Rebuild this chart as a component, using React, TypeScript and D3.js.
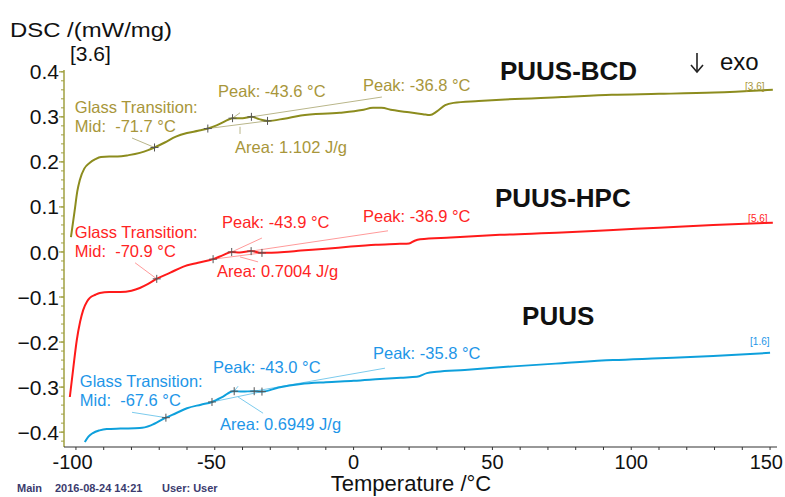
import React from "react";
import * as d3 from "d3";

const W = 785;
const H = 497;

const xTicks = [-100, -50, 0, 50, 100, 150];
const yTicks = [0.4, 0.3, 0.2, 0.1, 0.0, -0.1, -0.2, -0.3, -0.4];

// temperature (°C), DSC (mW/mg)
const bcdCurve: [number, number][] = [
  [-101.8, 0.033], [-100.5, 0.09], [-99.5, 0.135], [-98.6, 0.16], [-97, 0.185],
  [-95, 0.198], [-93, 0.206], [-91, 0.211], [-88, 0.212], [-85, 0.212],
  [-81, 0.215], [-77, 0.22], [-74, 0.226], [-71.7, 0.232], [-68, 0.243],
  [-64, 0.256], [-60, 0.264], [-56, 0.269], [-52.5, 0.274], [-48, 0.285],
  [-45, 0.294], [-43.6, 0.297], [-40, 0.297], [-36.8, 0.3], [-34, 0.295],
  [-31, 0.291], [-25, 0.296], [-19, 0.303], [-5, 0.309], [3, 0.315],
  [7, 0.32], [10, 0.32], [14, 0.315], [20, 0.31], [25, 0.306],
  [27.5, 0.304], [30, 0.312], [33, 0.326], [36, 0.331], [45, 0.335],
  [53, 0.338], [75, 0.344], [93, 0.349], [110, 0.351], [130, 0.354], [151, 0.36],
];

const hpcCurve: [number, number][] = [
  [-102.2, -0.322], [-101, -0.26], [-99.7, -0.196], [-98.5, -0.155], [-97.4, -0.129],
  [-96, -0.11], [-95, -0.102], [-93, -0.095], [-91.4, -0.091], [-88, -0.089],
  [-84, -0.089], [-80, -0.086], [-77, -0.08], [-74, -0.071], [-71, -0.06],
  [-66, -0.046], [-61.5, -0.033], [-56, -0.024], [-50.6, -0.016], [-47, -0.007],
  [-44, 0.0], [-41, -0.001], [-37, 0.002], [-33, -0.002], [-25, 0.0],
  [-19, 0.003], [-10, 0.007], [-1, 0.012], [8, 0.016], [16.7, 0.018],
  [20, 0.019], [22, 0.025], [24, 0.028], [35, 0.032], [52.7, 0.038],
  [75, 0.043], [93.5, 0.049], [110, 0.054], [129.5, 0.06], [151, 0.065],
];

const puusCurve: [number, number][] = [
  [-96.8, -0.422], [-95.5, -0.41], [-93.9, -0.402], [-91.5, -0.396], [-88.9, -0.393],
  [-84, -0.392], [-77, -0.391], [-73, -0.385], [-68, -0.369], [-64, -0.358],
  [-60, -0.347], [-55, -0.339], [-51, -0.333], [-47, -0.321], [-43.4, -0.309],
  [-40, -0.31], [-36.2, -0.309], [-33, -0.31], [-27, -0.301], [-19, -0.293],
  [-10, -0.289], [0, -0.286], [9.5, -0.282], [17, -0.279], [22.8, -0.277],
  [26.4, -0.269], [30, -0.266], [40, -0.262], [57.5, -0.254], [75, -0.247],
  [93.5, -0.24], [110, -0.236], [129.5, -0.231], [150, -0.224],
];

// crosshair temperatures: glass mid, onset, peak 1, peak 2, end
const bcdMarks = [-71.7, -52.5, -43.6, -36.8, -31];
const hpcMarks = [-70.9, -50.6, -43.9, -36.9, -33];
const puusMarks = [-67.6, -51, -43.0, -35.8, -33];

const bcdTexts = ["Glass Transition:", "Mid:  -71.7 °C", "Peak: -43.6 °C", "Peak: -36.8 °C", "Area: 1.102 J/g"];
const hpcTexts = ["Glass Transition:", "Mid:  -70.9 °C", "Peak: -43.9 °C", "Peak: -36.9 °C", "Area: 0.7004 J/g"];
const puusTexts = ["Glass Transition:", "Mid:  -67.6 °C", "Peak: -43.0 °C", "Peak: -35.8 °C", "Area: 0.6949 J/g"];

// anchors in data units: glass text, peak1 text, peak2 text, area text
const bcdTextAt: [number, number][] = [[-100.4, 0.309], [-48.8, 0.344], [3.4, 0.358], [-42.7, 0.22]];
const hpcTextAt: [number, number][] = [[-100.4, 0.031], [-47.4, 0.053], [3.4, 0.067], [-49.2, -0.056]];
const puusTextAt: [number, number][] = [[-98.6, -0.3], [-50.6, -0.269], [7.0, -0.238], [-48.1, -0.396]];

// leader starts: glass, peak1, peak2; then area leader [from, to]
const bcdLeaders: [number, number][] = [[-79.8, 0.253], [-40.9, 0.309], [10.2, 0.344], [-40.9, 0.278], [-40.9, 0.262]];
const hpcLeaders: [number, number][] = [[-78.7, -0.024], [-33.0, 0.031], [12.4, 0.047], [-34.4, -0.022], [-40.9, -0.011]];
const puusLeaders: [number, number][] = [[-79.8, -0.356], [-41.6, -0.298], [11.3, -0.258], [-32.6, -0.358], [-41.6, -0.322]];

const names = ["PUUS-BCD", "PUUS-HPC", "PUUS"];
const nameAt: [number, number][] = [[52.7, 0.382], [50.9, 0.1], [60.7, -0.162]];
const endLabels = ["[3.6]", "[5.6]", "[1.6]"];
const endAt: [number, number][] = [[141, 0.36], [142.1, 0.067], [142.8, -0.207]];

const series = [
  { curve: bcdCurve, marks: bcdMarks, texts: bcdTexts, textAt: bcdTextAt, leaders: bcdLeaders,
    color: "#8c8c1e", text: "#a8963a", leader: "#b9b68a" },
  { curve: hpcCurve, marks: hpcMarks, texts: hpcTexts, textAt: hpcTextAt, leaders: hpcLeaders,
    color: "#ff1a1a", text: "#ff2424", leader: "#ff9a9a" },
  { curve: puusCurve, marks: puusMarks, texts: puusTexts, textAt: puusTextAt, leaders: puusLeaders,
    color: "#0ea0dc", text: "#1e96e8", leader: "#7ccbed" },
];

const FONT = "Arial, 'Liberation Sans', sans-serif";

const interp = (curve: [number, number][], t: number) => {
  const i = d3.bisector((d: [number, number]) => d[0]).left(curve, t);
  if (i <= 0) return curve[0][1];
  if (i >= curve.length) return curve[curve.length - 1][1];
  const a = curve[i - 1], b = curve[i];
  return a[1] + ((t - a[0]) / (b[0] - a[0])) * (b[1] - a[1]);
};

const App = () => {
  const x = d3.scaleLinear().domain([-104.3, 152.5]).range([64, 777]);
  const y = d3.scaleLinear().domain([-0.433, 0.404]).range([447, 70]);
  const line = d3
    .line<[number, number]>()
    .x(d => x(d[0]))
    .y(d => y(d[1]))
    .curve(d3.curveMonotoneX);

  const minorX = d3.range(-100, 151, 10);
  const minorY = d3.range(-42, 41, 2).map(v => v / 100);
  const x0 = x.range()[0];

  return (
    <svg width={W} height={H} style={{ position: "absolute", left: 0, top: 0, background: "#fff" }} fontFamily={FONT}>
      <rect width={W} height={H} fill="#fff" />

      {/* y axis */}
      <line x1={x0} x2={x0} y1={y(0.404)} y2={y(-0.433)} stroke="#a0a040" strokeWidth={1.5} />
      {minorY.map(v => (
        <line key={v} x1={x0 - 3} x2={x0} y1={y(v)} y2={y(v)} stroke="#a0a040" strokeWidth={1} />
      ))}
      {yTicks.map(v => (
        <g key={v}>
          <line x1={x0 - 5} x2={x0} y1={y(v)} y2={y(v)} stroke="#a0a040" strokeWidth={1.2} />
          <text x={59} y={y(v)} dy="0.36em" textAnchor="end" fontSize={21} fill="#111">
            {d3.format(".1f")(v)}
          </text>
        </g>
      ))}

      {/* x axis */}
      <line x1={x0} x2={x.range()[1]} y1={447} y2={447} stroke="#333" strokeWidth={1.2} />
      {minorX.map(t => (
        <line key={t} x1={x(t)} x2={x(t)} y1={447} y2={450} stroke="#333" strokeWidth={1} />
      ))}
      {xTicks.map(t => {
        const s = String(Math.abs(t));
        const half = (s.length * 0.556 * 20) / 2;
        const cx = Math.min(x(t), W - 2 - half);
        return (
          <g key={t}>
            <text x={cx} y={469} textAnchor="middle" fontSize={20} fill="#111">{s}</text>
            {t < 0 && (
              <text x={cx - half} y={469} textAnchor="end" fontSize={20} fill="#111">-</text>
            )}
          </g>
        );
      })}

      {/* axis titles */}
      <text x={10} y={37} fontSize={21} fill="#111" textLength={162} lengthAdjust="spacingAndGlyphs">DSC /(mW/mg)</text>
      <text x={70} y={61} fontSize={21} fill="#111">[3.6]</text>
      <text x={411} y={491} textAnchor="middle" fontSize={22} fill="#111">Temperature /°C</text>
      <g stroke="#222" strokeWidth={1.6} fill="none">
        <line x1={697} x2={697} y1={53} y2={72} />
        <path d="M691,65 L697,72 L703,65" />
      </g>
      <text x={720} y={70} fontSize={24} fill="#111">exo</text>
      <text y={492} fontSize={11} fill="#3b3b6e" fontWeight={600}>
        <tspan x={17}>Main</tspan>
        <tspan x={55}>2016-08-24 14:21</tspan>
        <tspan x={162}>User: User</tspan>
      </text>

      {series.map((s, si) => {
        const pt = (t: number): [number, number] => [x(t), y(interp(s.curve, t))];
        const m = s.marks.map(pt);
        const L = s.leaders.map(([t, v]) => [x(t), y(v)]);
        const T = s.textAt.map(([t, v]) => [x(t), y(v)]);
        return (
          <g key={si}>
            {/* helper lines */}
            <g stroke={s.leader} strokeWidth={1} fill="none">
              <line x1={m[1][0]} y1={m[1][1]} x2={m[4][0]} y2={m[4][1]} />
              <line x1={L[0][0]} y1={L[0][1]} x2={m[0][0]} y2={m[0][1]} />
              <line x1={L[1][0]} y1={L[1][1]} x2={m[2][0]} y2={m[2][1]} />
              <line x1={L[2][0]} y1={L[2][1]} x2={m[3][0]} y2={m[3][1]} />
              <line x1={L[3][0]} y1={L[3][1]} x2={L[4][0]} y2={L[4][1]} />
            </g>
            <path d={line(s.curve) ?? ""} fill="none" stroke={s.color} strokeWidth={2} />
            {m.map(([px, py], i) => (
              <g key={i} stroke="#555" strokeWidth={1}>
                <line x1={px - 4} x2={px + 4} y1={py} y2={py} />
                <line x1={px} x2={px} y1={py - 4} y2={py + 4} />
              </g>
            ))}
            <g fill={s.text} fontSize={16.5}>
              <text x={T[0][0]} y={T[0][1]}>{s.texts[0]}</text>
              <text x={T[0][0]} y={T[0][1] + 19} style={{ whiteSpace: "pre" }}>{s.texts[1]}</text>
              <text x={T[1][0]} y={T[1][1]}>{s.texts[2]}</text>
              <text x={T[2][0]} y={T[2][1]}>{s.texts[3]}</text>
              <text x={T[3][0]} y={T[3][1]}>{s.texts[4]}</text>
            </g>
            <text x={x(nameAt[si][0])} y={y(nameAt[si][1])} fontSize={26} fontWeight="bold" fill="#111">
              {names[si]}
            </text>
            <text x={x(endAt[si][0])} y={y(endAt[si][1])} fontSize={10} fill={s.text}>
              {endLabels[si]}
            </text>
          </g>
        );
      })}
    </svg>
  );
};

export default App;
